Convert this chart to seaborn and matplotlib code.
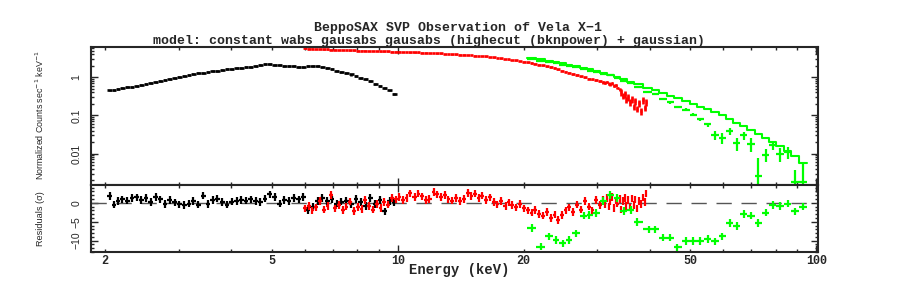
import numpy as np
import matplotlib
matplotlib.use('Agg')
import matplotlib.pyplot as plt
import seaborn as sns
from matplotlib.ticker import FixedLocator, FuncFormatter, LogLocator, NullFormatter, MultipleLocator

# --- data ---
# black: LECS-like detector, 2-10 keV
black_e = [2.05, 2.10, 2.15, 2.20, 2.26, 2.32, 2.38, 2.44, 2.50, 2.57,
           2.64, 2.71, 2.78, 2.85, 2.93, 3.01, 3.09, 3.17, 3.25, 3.34,
           3.43, 3.52, 3.61, 3.71, 3.81, 3.91, 4.01, 4.12, 4.23, 4.34,
           4.46, 4.58, 4.70, 4.82, 4.95, 5.08, 5.22, 5.36, 5.50, 5.65,
           5.80, 5.95, 6.11, 6.27, 6.44, 6.61, 6.79, 6.97, 7.15, 7.34,
           7.54, 7.74, 7.95, 8.16, 8.38, 8.60, 8.83, 9.07, 9.31, 9.56, 9.82]
black_y = [0.45, 0.47, 0.49, 0.51, 0.54, 0.57, 0.60, 0.64, 0.68, 0.72,
           0.76, 0.80, 0.85, 0.90, 0.96, 1.01, 1.07, 1.13, 1.20, 1.27,
           1.33, 1.38, 1.44, 1.50, 1.56, 1.60, 1.66, 1.72, 1.78, 1.84,
           1.90, 1.98, 2.10, 2.25, 2.20, 2.10, 2.05, 2.00, 1.95, 1.92,
           1.90, 1.90, 1.92, 1.95, 1.97, 1.90, 1.72, 1.60, 1.50, 1.40,
           1.30, 1.18, 1.08, 0.98, 0.88, 0.78, 0.68, 0.60, 0.52, 0.45, 0.36]
black_res = [1.8, -0.5, 0.4, 0.9, 0.6, 1.2, 1.4, 0.8, 1.3, 0.2,
             1.5, 0.9, -0.3, 0.7, 0.1, -0.4, -0.6, -0.2, 0.4, -0.5,
             1.9, -0.3, 0.8, 1.1, 0.2, -0.5, 0.3, 0.5, 0.8, 0.6,
             0.9, 0.4, 0.2, 1.1, 2.2, 1.6, -0.2, 0.8, 0.5, 1.2,
             0.9, 1.5, -2.0, -1.0, 0.4, 1.2, 0.5, 0.9, -0.2, 0.3,
             0.6, -0.4, 1.0, 0.2, -0.8, 1.3, -0.3, 0.7, -2.3, 0.5, 0.1]

# red: MECS-like detector, 6-39 keV
red_e = [6.0, 6.13, 6.25, 6.38, 6.52, 6.66, 6.80, 6.94, 7.09, 7.24,
         7.39, 7.54, 7.70, 7.86, 8.03, 8.20, 8.37, 8.55, 8.73, 8.91,
         9.10, 9.29, 9.48, 9.68, 9.89, 10.1, 10.3, 10.5, 10.7, 11.0,
         11.2, 11.4, 11.7, 11.9, 12.2, 12.4, 12.7, 13.0, 13.2, 13.5,
         13.8, 14.1, 14.4, 14.7, 15.0, 15.3, 15.6, 15.9, 16.3, 16.6,
         17.0, 17.3, 17.7, 18.1, 18.4, 18.8, 19.2, 19.6, 20.0, 20.5,
         20.9, 21.3, 21.8, 22.2, 22.7, 23.2, 23.7, 24.2, 24.7, 25.2,
         25.7, 26.3, 26.8, 27.4, 28.0, 28.6, 29.2, 29.8, 30.4,
         31.0, 31.3, 31.6, 31.9, 32.2, 32.6, 32.9, 33.2, 33.5, 33.9,
         34.2, 34.5, 34.9, 35.2, 35.6, 35.9, 36.3, 36.6, 37.0, 37.4,
         37.7, 38.1, 38.5, 38.9, 39.3]
red_y = [5.7, 5.6, 5.6, 5.5, 5.5, 5.4, 5.4, 5.3, 5.3, 5.2,
         5.2, 5.2, 5.1, 5.1, 5.0, 5.0, 5.0, 4.9, 4.9, 4.9,
         4.8, 4.8, 4.8, 4.7, 4.7, 4.7, 4.6, 4.6, 4.5, 4.5,
         4.5, 4.4, 4.4, 4.3, 4.3, 4.2, 4.2, 4.1, 4.1, 4.0,
         4.0, 3.9, 3.9, 3.8, 3.8, 3.7, 3.6, 3.6, 3.5, 3.4,
         3.3, 3.2, 3.1, 3.0, 2.95, 2.85, 2.75, 2.65, 2.55, 2.45,
         2.35, 2.25, 2.15, 2.05, 1.95, 1.85, 1.75, 1.6, 1.5, 1.4,
         1.32, 1.22, 1.15, 1.05, 1.0, 0.92, 0.88, 0.84, 0.8,
         0.74, 0.72, 0.75, 0.68, 0.66, 0.70, 0.60, 0.62, 0.52, 0.48,
         0.40, 0.33, 0.36, 0.26, 0.30, 0.22, 0.27, 0.17, 0.24, 0.15,
         0.21, 0.13, 0.25, 0.16, 0.22]
red_frac = [0.02] * 60 + [0.04] * 19 + [0.08] * 10 + [0.2] * 15
red_res = [-1.5, -0.8, -2.0, -1.2, 0.5, -1.8, -0.9, 2.0, -1.5, -0.6,
           -1.9, -1.0, 0.3, -2.2, -1.1, -1.6, 0.8, -0.9, -1.8, -0.3,
           -1.4, 0.2, -0.5, 1.2, 0.9, 1.5, 0.8, 1.3, 2.5, 1.6,
           2.4, 1.7, 0.8, 1.0, 2.9, 2.2, 1.5, 2.0, 0.9, 0.6,
           1.3, 0.4, 1.0, 2.6, 1.8, 2.4, 1.2, 1.9, 0.7, 1.4,
           0.2, -0.4, 0.5, -0.8, 0.1, -0.6, -1.2, -0.3, -1.5, -2.0,
           -2.6, -1.9, -3.0, -3.4, -2.5, -4.0, -3.1, -4.5, -3.2, -2.0,
           -1.2, -2.4, -0.5, -1.8, 0.4, -1.0, -2.0, 0.8, -0.6,
           0.8, -0.5, 1.2, -1.0, 0.3, 1.6, -1.4, 0.6, -0.2, 1.0,
           -1.8, 0.4, 1.3, -0.9, 0.7, -1.2, 1.1, -0.6, 0.9, -1.5,
           0.5, -0.3, 1.4, 0.2, 2.4]

# green: PDS-like detector, 21-93 keV, data + folded model
green_e = [20.9, 22.0, 23.0, 23.9, 24.8, 25.6, 26.6, 27.9, 28.7, 29.8,
           31.0, 32.2, 33.4, 34.7, 36.1, 37.4, 39.8, 41.3, 43.1, 44.8,
           46.6, 48.8, 50.9, 52.9, 55.0, 57.3, 59.6, 62.1, 64.6, 67.1,
           69.9, 72.8, 75.8, 78.8, 81.9, 85.4, 88.8, 92.8]
green_model = [3.2, 2.95, 2.7, 2.5, 2.3, 2.15, 1.95, 1.75, 1.6, 1.45,
               1.3, 1.15, 1.0, 0.88, 0.76, 0.66, 0.53, 0.46, 0.39, 0.33,
               0.28, 0.24, 0.20, 0.17, 0.145, 0.12, 0.10, 0.08, 0.065, 0.052,
               0.042, 0.033, 0.026, 0.020, 0.016, 0.012, 0.0085, 0.0058]
green_y = [3.0, 2.7, 2.5, 2.3, 2.1, 2.0, 1.8, 1.65, 1.5, 1.35,
           1.25, 1.15, 0.98, 0.80, 0.70, 0.55, 0.40, 0.36, 0.27, 0.22,
           0.165, 0.14, 0.105, 0.079, 0.058, 0.031, 0.026, 0.038, 0.019, 0.030,
           0.018, 0.0026, 0.0094, 0.0165, 0.010, 0.011, 0.0018, 0.0018]
green_err = [0.05, 0.05, 0.05, 0.05, 0.04, 0.04, 0.04, 0.04, 0.03, 0.03,
             0.03, 0.03, 0.03, 0.03, 0.02, 0.02, 0.02, 0.02, 0.02, 0.015,
             0.012, 0.012, 0.01, 0.008, 0.007, 0.009, 0.008, 0.008, 0.007, 0.007,
             0.007, 0.005, 0.0035, 0.004, 0.004, 0.004, 0.002, 0.004]
green_res = [-6.6, -11.6, -8.9, -9.9, -10.7, -9.9, -8.1, -3.4, -3.2, -2.7,
             0.5, 2.0, 1.2, -2.1, -1.9, -5.1, -7.0, -7.0, -9.2, -9.2,
             -11.8, -10.1, -10.1, -10.1, -9.6, -10.2, -8.9, -5.3, -6.2, -2.9,
             -3.4, -5.3, -2.6, -0.6, -0.9, -0.2, -2.3, -1.0]


def bin_edges(e):
    e = np.asarray(e, dtype=float)
    mid = np.sqrt(e[:-1] * e[1:])
    return np.concatenate([[e[0] ** 2 / mid[0]], mid, [e[-1] ** 2 / mid[-1]]])


def xerrs(e):
    ed = bin_edges(e)
    e = np.asarray(e, dtype=float)
    return np.vstack([e - ed[:-1], ed[1:] - e])


sns.set_style('ticks')
plt.rcParams['font.family'] = ['Liberation Mono', 'DejaVu Sans Mono']
plt.rcParams['axes.linewidth'] = 1.5

BLACK, RED, GREEN = '#000000', '#ff0000', '#00ff00'
bold_font = dict(family=['Liberation Mono', 'DejaVu Sans Mono'], weight='bold')
narrow = ['Liberation Sans', 'DejaVu Sans']

fig = plt.figure(figsize=(9.13, 2.91), dpi=100)
L, R = 91 / 913, 818 / 913
ax1 = fig.add_axes([L, 1 - 185 / 291, R - L, (185 - 47) / 291])
ax2 = fig.add_axes([L, 1 - 252 / 291, R - L, (252 - 185) / 291], sharex=ax1)

for ax in (ax1, ax2):
    ax.set_xscale('log')
ax1.set_yscale('log')

# top panel: folded spectra
ebar = dict(fmt='none', elinewidth=1.6, capsize=0)
ax1.errorbar(black_e, black_y, xerr=xerrs(black_e),
             yerr=np.array(black_y) * 0.06, ecolor=BLACK, fmt='none',
             elinewidth=1.9, capsize=0)
ax1.errorbar(red_e, red_y, xerr=xerrs(red_e),
             yerr=np.array(red_y) * np.array(red_frac), ecolor=RED, fmt='none',
             elinewidth=1.9, capsize=0)
ax1.errorbar(green_e, green_y, xerr=xerrs(green_e), yerr=green_err,
             ecolor=GREEN, **ebar)
g_edges = bin_edges(green_e)
sns.lineplot(x=g_edges, y=green_model + [green_model[-1]], drawstyle='steps-post',
             color=GREEN, lw=1.5, ax=ax1, legend=False)

# bottom panel: residuals in sigma
ax2.axhline(0, color='#555555', lw=1.0, ls=(0, (11, 7)))
ax2.errorbar(black_e, black_res, xerr=xerrs(black_e), yerr=1.0, ecolor=BLACK, **ebar)
ax2.errorbar(red_e, red_res, xerr=xerrs(red_e), yerr=1.0, ecolor=RED, **ebar)
ax2.errorbar(green_e, green_res, xerr=xerrs(green_e), yerr=1.0, ecolor=GREEN, **ebar)

ax1.set_xlim(1.85, 101)
ax1.set_ylim(0.0015, 6.2)
ax2.set_ylim(-13, 4.7)
ax1.set_xlabel('')
ax1.set_ylabel('')

# ticks
ax2.xaxis.set_major_locator(FixedLocator([10, 100]))
ax2.xaxis.set_minor_locator(FixedLocator([2, 3, 4, 5, 6, 7, 8, 9, 20, 30, 40, 50, 60, 70, 80, 90]))
ax2.xaxis.set_major_formatter(FuncFormatter(lambda v, p: f'{v:g}'))
ax2.xaxis.set_minor_formatter(FuncFormatter(lambda v, p: f'{v:g}' if v in (2, 5, 20, 50) else ''))
ax1.yaxis.set_major_locator(LogLocator(base=10))
ax1.yaxis.set_minor_locator(LogLocator(base=10, subs=np.arange(2, 10)))
ax1.yaxis.set_major_formatter(FuncFormatter(lambda v, p: f'{v:g}'))
ax1.yaxis.set_minor_formatter(NullFormatter())
ax2.yaxis.set_major_locator(MultipleLocator(5))
ax2.yaxis.set_minor_locator(MultipleLocator(1))

for ax in (ax1, ax2):
    ax.tick_params(which='both', direction='in', top=True, right=True, width=1.0)
    ax.tick_params(which='major', length=5)
    ax.tick_params(which='minor', length=2.5)
    ax.tick_params(axis='y', which='both', pad=7, labelsize=7.5)
    for lab in ax.get_yticklabels():
        lab.set_rotation(90)
        lab.set_va('center')
        lab.set_family(narrow)
ax1.tick_params(axis='x', which='both', labelbottom=False)
ax2.tick_params(axis='x', which='both', pad=2.5, labelsize=8.5)
for lab in ax2.get_xticklabels(which='both'):
    lab.set_fontweight('bold')

# labels and titles
fig.text(458 / 913, 1 - 28.5 / 291, 'BeppoSAX SVP Observation of Vela X\u22121',
         ha='center', va='center', fontsize=9.5, **bold_font)
fig.text(429 / 913, 1 - 41 / 291,
         'model: constant wabs gausabs gausabs (highecut (bknpower) + gaussian)',
         ha='center', va='center', fontsize=9.5, **bold_font)
fig.text(459 / 913, 1 - 270 / 291, 'Energy (keV)', ha='center', va='center',
         fontsize=10, **bold_font)
fig.text(40 / 913, 1 - 115 / 291, r'Normalized Counts sec$^{-1}$ keV$^{-1}$',
         rotation=90, ha='center', va='center', fontsize=6.4, family=narrow)
fig.text(40 / 913, 1 - 219 / 291, 'Residuals (\u03c3)',
         rotation=90, ha='center', va='center', fontsize=6.6, family=narrow)

fig.savefig('out.png', dpi=100)
